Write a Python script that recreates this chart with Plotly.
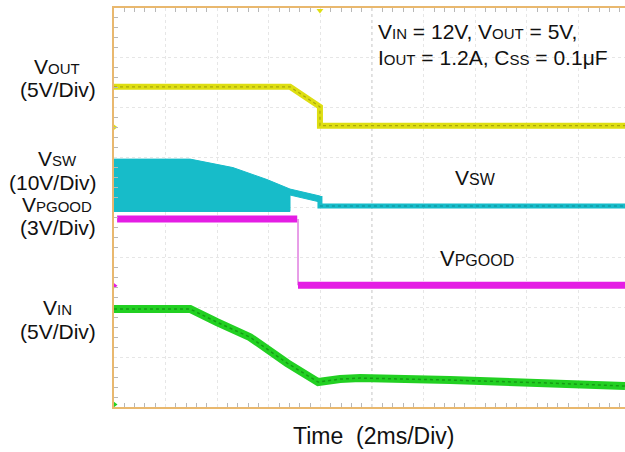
import plotly.graph_objects as go

# time in ms (2 ms/div), signal positions in screen divisions (0..8)
vout_t = [0.0, 6.82, 7.98, 7.98, 19.8]
vout_y = [6.42, 6.42, 6.02, 5.64, 5.64]

vsw_top_t = [0.0, 2.95, 4.61, 5.93, 6.82, 7.98]
vsw_top_y = [4.97, 4.97, 4.80, 4.56, 4.37, 4.23]
vsw_bot_t = [7.98, 6.82, 6.82, 0.0]
vsw_bot_y = [4.11, 4.25, 3.92, 3.92]
vsw_low_t = [7.98, 7.98, 19.8]
vsw_low_y = [4.23, 4.03, 4.03]

pg_hi_t = [0.12, 7.10]
pg_hi_y = [3.77, 3.77]
pg_edge_t = [7.13, 7.13]
pg_edge_y = [3.77, 2.44]
pg_lo_t = [7.13, 19.8]
pg_lo_y = [2.44, 2.44]

vin_t = [0.0, 2.95, 3.99, 5.27, 6.71, 7.91, 8.76, 9.54, 13.02, 16.9, 19.8]
vin_y = [1.965, 1.965, 1.70, 1.40, 0.88, 0.50, 0.56, 0.58, 0.54, 0.48, 0.42]

YEL = "#dede12"
CYN = "#17bcc9"
MAG = "#e41de4"
GRN = "#22d022"

fig = go.Figure()

# VSW filled switching envelope
fig.add_trace(go.Scatter(x=vsw_top_t + vsw_bot_t + [vsw_top_t[0]],
                         y=vsw_top_y + vsw_bot_y + [vsw_top_y[0]],
                         fill="toself", fillcolor=CYN, mode="lines",
                         line=dict(color=CYN, width=1), hoverinfo="skip"))
fig.add_trace(go.Scatter(x=vsw_low_t, y=vsw_low_y, mode="lines",
                         line=dict(color=CYN, width=5)))
fig.add_trace(go.Scatter(x=vsw_low_t[1:], y=vsw_low_y[1:], mode="lines",
                         line=dict(color="rgba(0,70,80,0.4)", width=1, dash="dot")))

fig.add_trace(go.Scatter(x=vout_t, y=vout_y, mode="lines",
                         line=dict(color=YEL, width=6)))
fig.add_trace(go.Scatter(x=vout_t, y=vout_y, mode="lines",
                         line=dict(color="rgba(90,90,0,0.4)", width=1.2, dash="dot")))

fig.add_trace(go.Scatter(x=pg_hi_t, y=pg_hi_y, mode="lines",
                         line=dict(color=MAG, width=7)))
fig.add_trace(go.Scatter(x=pg_edge_t, y=pg_edge_y, mode="lines",
                         line=dict(color="#e07ee0", width=1.5)))
fig.add_trace(go.Scatter(x=pg_lo_t, y=pg_lo_y, mode="lines",
                         line=dict(color=MAG, width=7)))

fig.add_trace(go.Scatter(x=vin_t, y=vin_y, mode="lines",
                         line=dict(color=GRN, width=8)))
fig.add_trace(go.Scatter(x=vin_t, y=vin_y, mode="lines",
                         line=dict(color="rgba(0,80,0,0.4)", width=1.5, dash="dot")))

# channel ground markers and trigger marker
fig.add_trace(go.Scatter(x=[0, 0, 0, 0], y=[5.61, 4.02, 2.43, 0.05], mode="markers",
                         marker=dict(symbol="triangle-right", size=7,
                                     color=[YEL, CYN, MAG, GRN]),
                         cliponaxis=False))
fig.add_trace(go.Scatter(x=[7.98], y=[7.95], mode="markers",
                         marker=dict(symbol="triangle-down", size=6, color=YEL),
                         cliponaxis=False))

# center cross
fig.add_shape(type="line", x0=10, x1=10, y0=0, y1=8, line=dict(color="#b0b0b0", width=1, dash="dot"), layer="below")
fig.add_shape(type="line", x0=0, x1=19.8, y0=4, y1=4, line=dict(color="#b0b0b0", width=1, dash="dot"), layer="below")

def sub(main, s, small):
    return f"{main}<span style='font-size:{small}px'>{s}</span>"

ann = []
def lab(text, px, py, size=21, anchor="center"):
    ann.append(dict(text=text, x=(px - 114) / 511, y=(407 - py) / 399,
                    xref="paper", yref="paper", showarrow=False,
                    xanchor=anchor, yanchor="middle",
                    font=dict(size=size, color="#111111", family="Liberation Sans, Arial")))

lab(sub("V", "OUT", 15), 57, 66)
lab("(5V/Div)", 58, 89)
lab(sub("V", "SW", 15), 57, 158)
lab("(10V/Div)", 53, 182)
lab(sub("V", "PGOOD", 15), 57, 204)
lab("(3V/Div)", 58, 227)
lab(sub("V", "IN", 15), 57, 307)
lab("(5V/Div)", 58, 331)
lab(sub("V", "SW", 16), 475, 177)
lab(sub("V", "PGOOD", 16), 477, 258, size=22)
lab(sub("V", "IN", 15) + " = 12V, " + sub("V", "OUT", 15) + " = 5V,", 376, 31, size=21, anchor="left")
lab(sub("I", "OUT", 15) + " = 1.2A, " + sub("C", "SS", 15) + " = 0.1μF", 376, 57, size=21, anchor="left")
lab("Time  (2ms/Div)", 373, 436, size=23)

fig.update_layout(
    width=625, height=452,
    margin=dict(l=114, r=0, t=8, b=45),
    paper_bgcolor="white", plot_bgcolor="white",
    showlegend=False,
    annotations=ann,
    xaxis=dict(range=[0, 19.8], showticklabels=False, zeroline=False,
               dtick=2, showgrid=True, gridcolor="#e6e6e6", griddash="dot",
               showline=True, linecolor="#e9b86e", linewidth=2, mirror="ticks",
               ticks="inside", ticklen=0,
               minor=dict(dtick=0.4, ticks="inside", ticklen=4, tickcolor="#b8b8b8", showgrid=False)),
    yaxis=dict(range=[0, 8], showticklabels=False, zeroline=False,
               dtick=1, showgrid=True, gridcolor="#e6e6e6", griddash="dot",
               showline=True, linecolor="#e9b86e", linewidth=2,
               ticks="inside", ticklen=0,
               minor=dict(dtick=0.2, ticks="inside", ticklen=4, tickcolor="#b8b8b8", showgrid=False)),
)

fig.write_html("out.html")
